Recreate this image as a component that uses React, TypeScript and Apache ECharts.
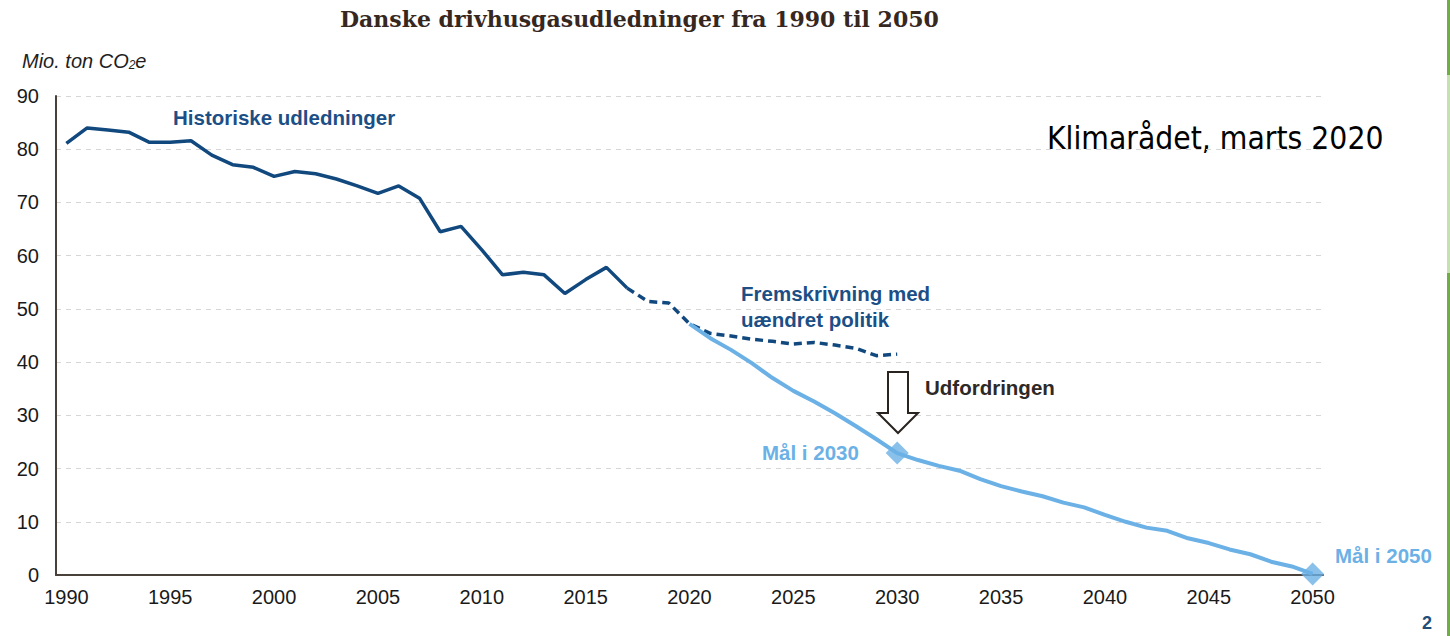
import React, { useEffect, useRef } from "react";
import * as echarts from "echarts";

// Years on the x axis (categories)
const years: string[] = Array.from({ length: 61 }, (_, i) => String(1990 + i));
const yTicks = { min: 0, max: 90, interval: 10 };

// Historical emissions 1990-2017 (Mio. ton CO2e)
const historicalStart = 1990;
const historical = [
  81.1, 84.0, 83.6, 83.2, 81.3, 81.3, 81.6, 78.9, 77.1, 76.6,
  74.9, 75.8, 75.4, 74.4, 73.1, 71.7, 73.1, 70.8, 64.5, 65.5,
  61.1, 56.4, 56.9, 56.4, 52.9, 55.5, 57.8, 53.9,
];

// Projection with unchanged policy 2017-2030
const projectionStart = 2017;
const projection = [
  53.9, 51.4, 51.1, 47.2, 45.4, 44.9, 44.3, 43.9, 43.4, 43.7, 43.2, 42.6, 41.2, 41.5,
];

// Target path 2020-2050
const targetStart = 2020;
const target = [
  47.2, 44.5, 42.3, 39.8, 37.0, 34.6, 32.6, 30.4, 28.0, 25.5,
  22.9, 21.6, 20.5, 19.6, 18.0, 16.7, 15.7, 14.8, 13.6, 12.7,
  11.3, 10.0, 8.9, 8.3, 6.9, 6.0, 4.8, 3.9, 2.5, 1.6, 0.2,
];

// Milestone years marked with diamonds
const milestoneYears = ["2030", "2050"];

const DARK_BLUE = "#11497f";
const LIGHT_BLUE = "#6cb1e6";
const SANS = "'Liberation Sans', Arial, sans-serif";

function pad(values: number[], start: number): (number | null)[] {
  return years.map((y) => {
    const i = Number(y) - start;
    return i >= 0 && i < values.length ? values[i] : null;
  });
}

export default function App() {
  const ref = useRef<HTMLDivElement>(null);

  useEffect(() => {
    if (!ref.current) return;
    const chart = echarts.init(ref.current, undefined, { renderer: "svg" });

    const milestoneData = milestoneYears.map((y) => [y, target[Number(y) - targetStart]]);

    chart.setOption({
      animation: false,
      backgroundColor: "#ffffff",
      grid: { left: 56, right: 127, top: 96, bottom: 61, containLabel: false },
      xAxis: {
        type: "category",
        data: years,
        boundaryGap: true,
        axisLine: { show: true, lineStyle: { color: "#4a413b", width: 2 } },
        axisTick: { show: false },
        axisLabel: {
          interval: 4,
          fontSize: 20,
          fontFamily: SANS,
          color: "#1a1a1a",
          margin: 12,
        },
        splitLine: { show: false },
      },
      yAxis: {
        type: "value",
        min: yTicks.min,
        max: yTicks.max,
        interval: yTicks.interval,
        axisLine: { show: true, lineStyle: { color: "#4a413b", width: 2 } },
        axisTick: { show: false },
        axisLabel: {
          fontSize: 20,
          fontFamily: SANS,
          color: "#1a1a1a",
          margin: 17,
        },
        splitLine: {
          show: true,
          lineStyle: { color: "#d6d6d6", width: 1, type: [5, 5] },
        },
      },
      series: [
        {
          name: "Historiske udledninger",
          type: "line",
          data: pad(historical, historicalStart),
          symbol: "none",
          connectNulls: false,
          lineStyle: { color: DARK_BLUE, width: 3.5 },
          z: 3,
        },
        {
          name: "Fremskrivning",
          type: "line",
          data: pad(projection, projectionStart),
          symbol: "none",
          lineStyle: { color: DARK_BLUE, width: 3.5, type: [8, 5] },
          z: 3,
        },
        {
          name: "Mål",
          type: "line",
          data: pad(target, targetStart),
          symbol: "none",
          lineStyle: { color: LIGHT_BLUE, width: 4 },
          z: 4,
        },
        {
          name: "Milepæle",
          type: "scatter",
          data: milestoneData,
          symbol: "diamond",
          symbolSize: 23,
          itemStyle: { color: LIGHT_BLUE },
          z: 5,
        },
      ],
      graphic: [
        {
          type: "text",
          left: 340,
          top: 8,
          style: {
            text: "Danske drivhusgasudledninger fra 1990 til 2050",
            font: "bold 22px 'DejaVu Serif', serif",
            fill: "#36271f",
          },
        },
        {
          type: "text",
          left: 22,
          top: 51,
          style: {
            text: "{a|Mio. ton CO}{s|2}{a|e}",
            rich: {
              a: { font: `italic 20px ${SANS}`, fill: "#1e1e1e", verticalAlign: "bottom" },
              s: { font: `italic 12px ${SANS}`, fill: "#1e1e1e", verticalAlign: "bottom" },
            },
          },
        },
        {
          type: "text",
          left: 173,
          top: 107,
          style: { text: "Historiske udledninger", font: `bold 20.5px ${SANS}`, fill: "#1b4f86" },
        },
        {
          type: "text",
          left: 741,
          top: 280,
          style: {
            text: "Fremskrivning med\nuændret politik",
            font: `bold 20.5px ${SANS}`,
            fill: "#1b4f86",
            lineHeight: 26,
          },
        },
        {
          type: "text",
          left: 925,
          top: 377,
          style: { text: "Udfordringen", font: `bold 20.5px ${SANS}`, fill: "#2e2926" },
        },
        {
          type: "polygon",
          shape: {
            points: [
              [888, 372], [908, 372], [908, 413], [918, 413],
              [898, 433], [878, 413], [888, 413],
            ],
          },
          style: { fill: "#ffffff", stroke: "#2a2420", lineWidth: 2 },
          z: 10,
        },
        {
          type: "text",
          left: 762,
          top: 442,
          style: { text: "Mål i 2030", font: `bold 20.5px ${SANS}`, fill: LIGHT_BLUE },
        },
        {
          type: "text",
          left: 1335,
          top: 545,
          style: { text: "Mål i 2050", font: `bold 20.5px ${SANS}`, fill: LIGHT_BLUE },
        },
        {
          type: "text",
          left: 1047,
          top: 122,
          style: {
            text: "Klimarådet, marts 2020",
            font: "31.5px 'DejaVu Sans Condensed', 'DejaVu Sans', sans-serif",
            fill: "#000000",
          },
        },
        {
          type: "text",
          left: 1422,
          top: 614,
          style: { text: "2", font: `bold 18px ${SANS}`, fill: "#1f4e79" },
        },
        {
          type: "rect",
          shape: { x: 1447, y: 0, width: 3, height: 636 },
          style: { fill: "#70ad47" },
        },
        {
          type: "rect",
          shape: { x: 1447, y: 75, width: 3, height: 198 },
          style: { fill: "#c7e0b0" },
        },
      ],
    });

    return () => chart.dispose();
  }, []);

  return (
    <div
      ref={ref}
      style={{ position: "absolute", left: 0, top: 0, width: 1450, height: 636 }}
    />
  );
}
